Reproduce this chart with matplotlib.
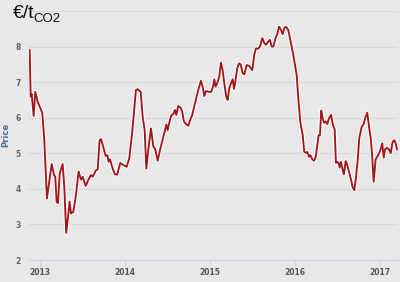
import matplotlib
matplotlib.use("Agg")
import matplotlib.pyplot as plt
import matplotlib.patheffects as pe

years = [2012.879, 2012.891, 2012.902, 2012.926, 2012.945, 2012.973, 2013.027, 2013.051,
         2013.082, 2013.138, 2013.165, 2013.180, 2013.196, 2013.212, 2013.232, 2013.267,
         2013.286, 2013.309, 2013.326, 2013.349, 2013.365, 2013.392, 2013.420, 2013.455,
         2013.482, 2013.502, 2013.538, 2013.568, 2013.600, 2013.620, 2013.639, 2013.655,
         2013.679, 2013.702, 2013.718, 2013.745, 2013.773, 2013.792, 2013.808, 2013.824,
         2013.855, 2013.882, 2013.909, 2013.945, 2013.980, 2014.020, 2014.051, 2014.086,
         2014.129, 2014.149, 2014.185, 2014.208, 2014.232, 2014.251, 2014.274, 2014.306,
         2014.333, 2014.356, 2014.385, 2014.412, 2014.444, 2014.471, 2014.486, 2014.502,
         2014.529, 2014.549, 2014.568, 2014.588, 2014.604, 2014.627, 2014.655, 2014.674,
         2014.694, 2014.718, 2014.745, 2014.768, 2014.792, 2014.824, 2014.862, 2014.894,
         2014.914, 2014.933, 2014.953, 2014.988, 2015.012, 2015.035, 2015.051, 2015.067,
         2015.091, 2015.109, 2015.129, 2015.149, 2015.168, 2015.192, 2015.208, 2015.227,
         2015.247, 2015.267, 2015.282, 2015.298, 2015.321, 2015.341, 2015.361, 2015.385,
         2015.404, 2015.432, 2015.459, 2015.498, 2015.521, 2015.541, 2015.568, 2015.588,
         2015.615, 2015.639, 2015.659, 2015.686, 2015.706, 2015.726, 2015.745, 2015.773,
         2015.792, 2015.812, 2015.835, 2015.855, 2015.874, 2015.894, 2015.921, 2015.949,
         2015.980, 2016.020, 2016.039, 2016.062, 2016.091, 2016.109, 2016.129, 2016.145,
         2016.165, 2016.180, 2016.204, 2016.224, 2016.244, 2016.267, 2016.279, 2016.294,
         2016.309, 2016.326, 2016.341, 2016.361, 2016.380, 2016.400, 2016.424, 2016.447,
         2016.467, 2016.482, 2016.498, 2016.514, 2016.526, 2016.541, 2016.561, 2016.576,
         2016.596, 2016.612, 2016.635, 2016.659, 2016.679, 2016.698, 2016.714, 2016.738,
         2016.756, 2016.785, 2016.804, 2016.824, 2016.851, 2016.871, 2016.891, 2016.906,
         2016.926, 2016.949, 2016.980, 2017.004, 2017.027, 2017.044, 2017.059, 2017.082,
         2017.106, 2017.126, 2017.149, 2017.168, 2017.185, 2017.200]
prices = [7.90, 6.59, 6.67, 6.05, 6.73, 6.45, 6.14, 5.37,
          3.73, 4.70, 4.39, 4.34, 3.63, 3.60, 4.43, 4.70,
          4.06, 2.76, 3.12, 3.64, 3.31, 3.35, 3.77, 4.49,
          4.26, 4.34, 4.08, 4.25, 4.39, 4.34, 4.43, 4.51,
          4.55, 5.37, 5.40, 5.18, 4.92, 4.95, 4.76, 4.83,
          4.57, 4.41, 4.40, 4.73, 4.67, 4.62, 4.86, 5.61,
          6.78, 6.80, 6.73, 6.03, 5.65, 4.57, 5.09, 5.70,
          5.20, 5.11, 4.79, 5.09, 5.39, 5.65, 5.81, 5.65,
          5.94, 6.08, 6.10, 6.22, 6.08, 6.33, 6.28, 6.17,
          5.89, 5.82, 5.77, 5.94, 6.08, 6.41, 6.78, 7.04,
          6.87, 6.61, 6.75, 6.73, 6.72, 6.87, 7.08, 6.87,
          7.01, 7.15, 7.55, 7.34, 6.97, 6.59, 6.50, 6.83,
          6.97, 7.08, 6.81, 7.01, 7.39, 7.53, 7.50, 7.25,
          7.22, 7.48, 7.46, 7.34, 7.77, 7.95, 7.94, 8.00,
          8.24, 8.10, 8.05, 8.14, 8.19, 8.00, 8.00, 8.25,
          8.35, 8.56, 8.47, 8.35, 8.52, 8.56, 8.47, 8.14,
          7.77, 7.20, 6.55, 5.89, 5.51, 5.04, 5.01, 5.04,
          4.90, 4.95, 4.83, 4.79, 4.90, 5.30, 5.51, 5.51,
          6.20, 5.98, 5.86, 5.89, 5.82, 5.98, 6.08, 5.80,
          5.67, 4.73, 4.76, 4.72, 4.60, 4.76, 4.53, 4.41,
          4.78, 4.70, 4.48, 4.26, 4.04, 3.96, 4.25, 4.81,
          5.42, 5.75, 5.80, 5.98, 6.14, 5.75, 5.42, 5.00,
          4.20, 4.83, 4.95, 5.09, 5.28, 4.88, 5.11, 5.15,
          5.11, 5.00, 5.32, 5.37, 5.28, 5.11]
x_ticks = [2013, 2014, 2015, 2016, 2017]
x_labels = ["2013", "2014", "2015", "2016", "2017"]
y_ticks = [2, 3, 4, 5, 6, 7, 8]
y_labels = ["2", "3", "4", "5", "6", "7", "8"]

BG = "#e8e8e8"
W, H = 400, 282
fig = plt.figure(figsize=(W / 100, H / 100), dpi=100, facecolor=BG)
ax = fig.add_axes([29 / W, 22 / H, (398 - 29) / W, (260 - 11) / H])
ax.set_facecolor(BG)

ax.plot(years, prices, color="#a3161c", lw=1.35, solid_joinstyle="round",
        path_effects=[pe.Stroke(linewidth=2.8, foreground="white"), pe.Normal()], zorder=3)

ax.set_xlim(2012.871, 2017.212)
ax.set_ylim(2, 9)
ax.set_yticks(y_ticks + [9])
ax.set_yticklabels(y_labels + [""])
ax.set_xticks(x_ticks)
ax.set_xticklabels(x_labels)
ax.grid(axis="y", color="#dadada", lw=0.9)
ax.set_axisbelow(True)
for s in ["top", "right", "left"]:
    ax.spines[s].set_visible(False)
ax.spines["bottom"].set_color("#ccd6eb")
ax.spines["bottom"].set_linewidth(1.0)
ax.tick_params(axis="y", length=0, pad=6, labelsize=5.5, labelcolor="#666666")
ax.tick_params(axis="x", length=4, width=0.8, color="#ccd6eb", pad=2,
               labelsize=5.5, labelcolor="#555555")
for lbl in ax.get_xticklabels() + ax.get_yticklabels():
    lbl.set_fontweight("bold")

fig.text(6 / W, 1 - 135 / H, "Price", rotation=90, ha="center", va="center",
         fontsize=6, fontweight="bold", color="#4a6c9b")

fig.text(13 / W, 1 - 18 / H, "€/t", ha="left", va="baseline", fontsize=14,
         family="Liberation Sans", color="#111111")
fig.text(33 / W, 1 - 22 / H, "CO2", ha="left", va="baseline", fontsize=9.5,
         family="Liberation Sans", color="#111111")

fig.savefig("out.png", dpi=100, facecolor=BG)
